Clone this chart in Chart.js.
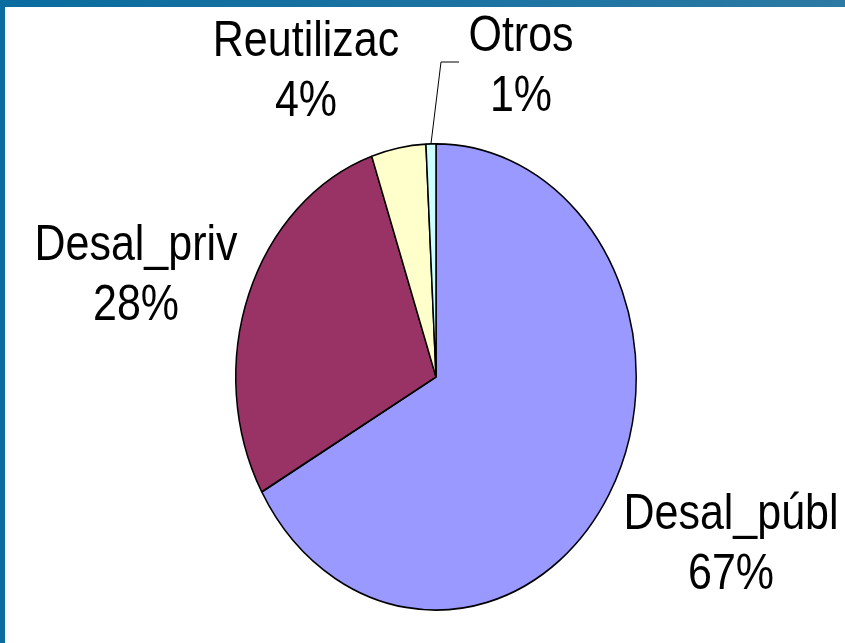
<!DOCTYPE html>
<html>
<head>
<meta charset="utf-8">
<script src="https://cdn.jsdelivr.net/npm/chart.js@4.4.0/dist/chart.umd.min.js"></script>
<style>
  html, body { margin: 0; padding: 0; background: #fff; }
  #wrap { position: relative; width: 845px; height: 643px; overflow: hidden; background: #fff; }
  #topbar { position: absolute; left: 0; top: 0; width: 845px; height: 7px;
    background: linear-gradient(to right, #0a6c9f, #1d73a2 60%, #2b7aa3); }
  #leftbar { position: absolute; left: 0; top: 0; width: 5px; height: 643px; background: #0a6c9f; }
  canvas { position: absolute; left: 0; top: 0; }
</style>
</head>
<body>
<div id="wrap">
  <canvas id="pie" width="845" height="643"></canvas>
  <div id="topbar"></div>
  <div id="leftbar"></div>
</div>
<script>
// data
var categories = ["Desal_públ", "Desal_priv", "Reutilizac", "Otros"];
var shares = [66.8, 28.0, 4.4, 0.8];
var sliceColors = ["#9999FF", "#993366", "#FFFFCC", "#CCFFFF"];

// label placement: centre x, centre y of first line (the whole picture is stretched vertically)
var labelPos = [[731, 511], [136, 242], [306, 38], [521, 33]];
var lineGap = 60;
var stretchY = 234 / 201;

var total = shares.reduce(function (a, b) { return a + b; }, 0);

var ellipse = {
  id: "ellipse",
  beforeDatasetsDraw: function (chart) {
    var a = chart.getDatasetMeta(0).data[0];
    var c = chart.ctx;
    c.save();
    c.translate(a.x, a.y);
    c.scale(1, stretchY);
    c.translate(-a.x, -a.y);
  },
  afterDatasetsDraw: function (chart) {
    chart.ctx.restore();
  }
};

function stretchedText(c, txt, x, y) {
  c.save();
  c.translate(x, y);
  c.scale(1, stretchY);
  c.fillText(txt, 0, 15.4);
  c.restore();
}

var sliceLabels = {
  id: "sliceLabels",
  afterDraw: function (chart) {
    var c = chart.ctx;
    var arcs = chart.getDatasetMeta(0).data;
    c.save();
    // leader line for the tiny slice
    var o = arcs[3];
    var mid = (o.startAngle + o.endAngle) / 2;
    var px = o.x + o.outerRadius * Math.cos(mid);
    var py = o.y + o.outerRadius * stretchY * Math.sin(mid);
    c.strokeStyle = "#000";
    c.lineWidth = 1;
    c.beginPath();
    c.moveTo(px, py);
    c.lineTo(441, 62);
    c.lineTo(459, 62);
    c.stroke();

    c.fillStyle = "#000";
    c.font = "43px 'Liberation Sans', Arial, sans-serif";
    c.textAlign = "center";
    c.textBaseline = "alphabetic";
    for (var i = 0; i < categories.length; i++) {
      var pct = Math.round(shares[i] / total * 100) + "%";
      stretchedText(c, categories[i], labelPos[i][0], labelPos[i][1]);
      stretchedText(c, pct, labelPos[i][0], labelPos[i][1] + lineGap);
    }
    c.restore();
  }
};

new Chart(document.getElementById("pie"), {
  type: "pie",
  data: {
    labels: categories,
    datasets: [
      {
        data: shares,
        backgroundColor: sliceColors,
        borderColor: "#000",
        borderWidth: 1.5,
        clip: false
      }
    ]
  },
  options: {
    responsive: false,
    animation: false,
    layout: {
      padding: { left: 235, right: 208, top: 176, bottom: 65 }
    },
    plugins: {
      legend: { display: false },
      tooltip: { enabled: false }
    }
  },
  plugins: [ellipse, sliceLabels]
});
</script>
</body>
</html>
